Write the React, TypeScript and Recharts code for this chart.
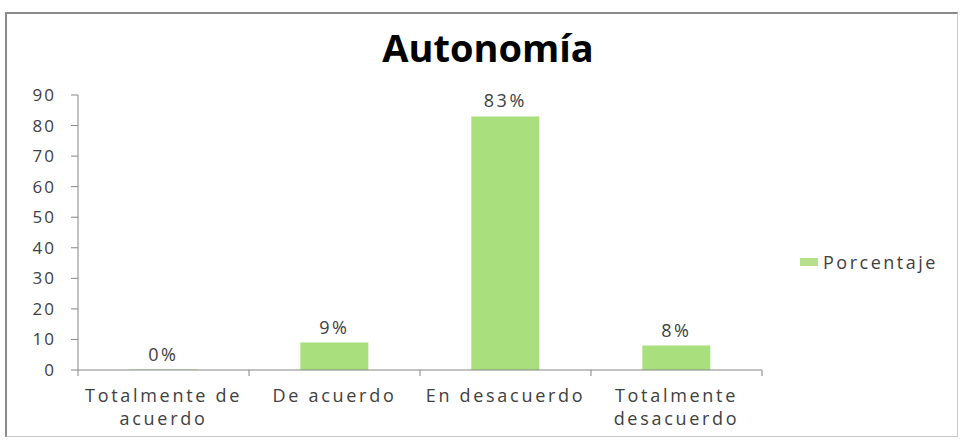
import React from "react";
import { BarChart, Bar, XAxis, YAxis, LabelList } from "recharts";

const categories = ["Totalmente de acuerdo", "De acuerdo", "En desacuerdo", "Totalmente desacuerdo"];
const tickLines = [["Totalmente de", "acuerdo"], ["De acuerdo"], ["En desacuerdo"], ["Totalmente", "desacuerdo"]];
const porcentaje = [0, 9, 83, 8];
const yTicks = [0, 10, 20, 30, 40, 50, 60, 70, 80, 90];
const seriesName = "Porcentaje";
const title = "Autonomía";

const data = categories.map((c, i) => ({ name: c, value: porcentaje[i] }));

const FONT = "'Open Sans', 'DejaVu Sans', sans-serif";
const TEXT = "#404040";
const AXIS = "#868686";
const GREEN = "#a9df7c";
const HALF_BAND = (762 - 78) / 4 / 2;

const XTick = (props: any) => {
  const { x, y, payload } = props;
  const idx = categories.indexOf(payload.value);
  const lines = tickLines[idx] || [payload.value];
  return (
    <g>
      <line x1={x - HALF_BAND} x2={x - HALF_BAND} y1={y - 8} y2={y - 2} stroke={AXIS} />
      {idx === categories.length - 1 && (
        <line x1={x + HALF_BAND} x2={x + HALF_BAND} y1={y - 8} y2={y - 2} stroke={AXIS} />
      )}
      {lines.map((l: string, i: number) => (
        <text
          key={i}
          x={x}
          y={y + 24 + i * 23}
          textAnchor="middle"
          fill={TEXT}
          fontSize={18}
          fontFamily={FONT}
          letterSpacing={2.7}
        >
          {l}
        </text>
      ))}
    </g>
  );
};

export default function App() {
  return (
    <div style={{ position: "absolute", left: 0, top: 0, width: 960, height: 440, background: "#fff", overflow: "hidden" }}>
      <div
        style={{
          position: "absolute",
          left: 0,
          width: 976,
          top: 27,
          textAlign: "center",
          fontFamily: FONT,
          fontWeight: 700,
          fontSize: 38,
          color: "#000",
          lineHeight: "40px",
        }}
      >
        {title}
      </div>
      <div style={{ position: "absolute", left: 0, top: 0 }}>
        <BarChart
          width={960}
          height={440}
          data={data}
          margin={{ top: 95, right: 198, bottom: 0, left: 0 }}
          barCategoryGap="30%"
        >
          <YAxis
            width={78}
            domain={[0, 90]}
            ticks={yTicks}
            interval={0}
            tickSize={7}
            tickMargin={15}
            axisLine={{ stroke: AXIS }}
            tickLine={{ stroke: AXIS }}
            tick={{ fill: TEXT, fontSize: 17, fontFamily: FONT, letterSpacing: 2 }}
          />
          <XAxis
            dataKey="name"
            height={70}
            interval={0}
            axisLine={{ stroke: AXIS }}
            tickLine={false}
            tick={<XTick />}
          />
          <Bar dataKey="value" name={seriesName} fill={GREEN} minPointSize={0.5} isAnimationActive={false}>
            <LabelList
              dataKey="value"
              position="top"
              offset={9}
              formatter={(v: any) => `${v}%`}
              fill={TEXT}
              fontSize={18}
              fontFamily={FONT}
              letterSpacing={2.5}
            />
          </Bar>
        </BarChart>
      </div>
      <div
        style={{
          position: "absolute",
          left: 800,
          top: 250,
          display: "flex",
          alignItems: "center",
          fontFamily: FONT,
          fontSize: 18,
          letterSpacing: 2.5,
          color: TEXT,
        }}
      >
        <span style={{ display: "inline-block", width: 18, height: 8, background: "#b8e08c", marginRight: 5 }} />
        <span>{seriesName}</span>
      </div>
      <div
        style={{
          position: "absolute",
          left: 5,
          top: 12,
          width: 953,
          height: 425,
          borderTop: "2px solid #8a8a8a",
          borderLeft: "2px solid #8a8a8a",
          borderRight: "1px solid #c8c8c8",
          borderBottom: "1px solid #c8c8c8",
          boxSizing: "border-box",
          pointerEvents: "none",
        }}
      />
    </div>
  );
}
